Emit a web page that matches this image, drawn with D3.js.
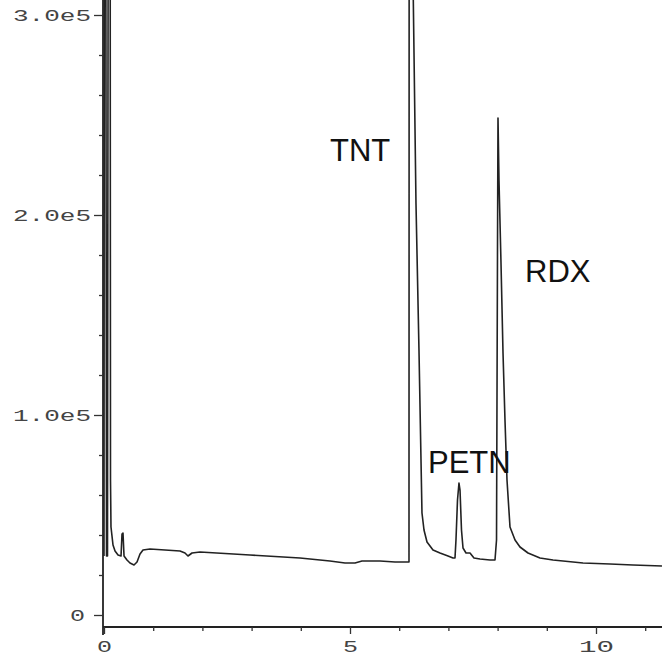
<!DOCTYPE html>
<html>
<head>
<meta charset="utf-8">
<script src="https://cdn.jsdelivr.net/npm/d3@7"></script>
<style>
  html, body { margin: 0; padding: 0; background: #fff; }
  svg { display: block; }
  .tick-label { font-family: "Liberation Mono", "DejaVu Sans Mono", monospace; font-size: 16px; fill: #444; }
  .peak-label { font-family: "Liberation Sans", Arial, sans-serif; font-size: 31px; fill: #111; }
</style>
</head>
<body>
<div id="chart"></div>
<script>
// Chromatogram trace: retention time (min) and detector response
const times = [
  0.000, 0.010, 0.030, 0.051, 0.071, 0.091, 0.122, 0.132, 0.142, 0.183,
  0.224, 0.285, 0.346, 0.366, 0.386, 0.407, 0.467, 0.528, 0.610, 0.671,
  0.732, 0.793, 0.935, 1.240, 1.545, 1.646, 1.707, 1.789, 1.951, 2.967,
  3.984, 4.593, 4.898, 5.102, 5.244, 5.610, 5.915, 6.179, 6.199, 6.205,
  6.270, 6.280, 6.341, 6.402, 6.463, 6.504, 6.565, 6.687, 6.829, 6.992,
  7.093, 7.134, 7.154, 7.185, 7.215, 7.236, 7.266, 7.297, 7.358, 7.439,
  7.520, 7.642, 7.846, 7.947, 7.978, 7.998, 8.008, 8.028, 8.069, 8.110,
  8.150, 8.191, 8.252, 8.354, 8.455, 8.618, 8.862, 9.126, 9.736, 10.285,
  10.752, 11.341
];
const intensities = [
  29500, 500000, 500000, 29500, 29500, 500000, 500000, 67500, 44000, 35000,
  32000, 30000, 29500, 40500, 41000, 29500, 27500, 26000, 25000, 26500,
  30500, 32500, 33000, 32500, 32000, 31000, 29500, 31000, 31500, 30000,
  28500, 27000, 26000, 26000, 27000, 27000, 26500, 26500, 26500, 600000,
  600000, 320000, 206000, 132500, 51000, 42500, 36500, 32500, 31000, 29500,
  28500, 28500, 37500, 57500, 66000, 62500, 42500, 33500, 31000, 31000,
  28500, 28000, 27500, 27500, 37500, 182500, 248500, 217500, 176000, 131000,
  97500, 67500, 44000, 37500, 34000, 31000, 28500, 27500, 26000, 25500,
  25000, 24500
];

// Axis ticks
const yMajorTicks = [0, 100000, 200000, 300000];
const yMinorTicks = d3.range(0, 300001, 20000).filter(v => v % 100000 !== 0);
const xMajorTicks = [0, 5, 10];
const xMinorTicks = d3.range(0, 12).filter(v => v % 5 !== 0);

// Peak annotations (anchor in data units: time, response)
const peakNames = ["TNT", "PETN", "RDX"];
const peakTimes = [4.593, 6.585, 8.557];
const peakResponses = [227000, 71000, 166500];

const W = 662, H = 661;

const svg = d3.select("#chart").append("svg")
  .attr("width", W)
  .attr("height", H);

const x = d3.scaleLinear().domain([0, 10]).range([104, 596]);
const y = d3.scaleLinear().domain([0, 300000]).range([615, 15]);

const axisX = x(0) - 1;   // vertical axis line position
const axisY = 627;        // horizontal axis line position

// ---- Axes lines ----
svg.append("line")
  .attr("x1", axisX).attr("x2", axisX)
  .attr("y1", 0).attr("y2", 635)
  .attr("stroke", "#222").attr("stroke-width", 1.8);

svg.append("line")
  .attr("x1", axisX).attr("x2", W)
  .attr("y1", axisY).attr("y2", axisY)
  .attr("stroke", "#222").attr("stroke-width", 1.8);

// ---- Y axis ticks ----
const yFmt = v => v === 0 ? "0" : (v / 100000).toFixed(1) + "e5";

const gyMinor = svg.append("g")
  .attr("transform", `translate(${axisX},0)`)
  .call(d3.axisLeft(y).tickValues(yMinorTicks).tickSize(4).tickFormat(""));
gyMinor.select(".domain").remove();

const gy = svg.append("g")
  .attr("transform", `translate(${axisX},0)`)
  .call(d3.axisLeft(y).tickValues(yMajorTicks).tickSize(9).tickPadding(3).tickFormat(yFmt));
gy.select(".domain").remove();
gy.selectAll("text")
  .attr("class", "tick-label")
  .attr("font-size", null).attr("font-family", null)
  .attr("fill", null)
  .attr("textLength", d => d === 0 ? 15 : 78)
  .attr("lengthAdjust", "spacingAndGlyphs")
  .attr("dx", d => d === 0 ? -6 : 0);

// ---- X axis ticks ----
const gxMinor = svg.append("g")
  .attr("transform", `translate(0,${axisY})`)
  .call(d3.axisBottom(x).tickValues(xMinorTicks).tickSize(4).tickFormat(""));
gxMinor.select(".domain").remove();

const gx = svg.append("g")
  .attr("transform", `translate(0,${axisY})`)
  .call(d3.axisBottom(x).tickValues(xMajorTicks).tickSize(7).tickPadding(7).tickFormat(d3.format("d")));
gx.select(".domain").remove();
gx.selectAll("text")
  .attr("class", "tick-label")
  .attr("font-size", null).attr("font-family", null)
  .attr("fill", null)
  .attr("textLength", d => d >= 10 ? 35 : 15)
  .attr("lengthAdjust", "spacingAndGlyphs");

svg.selectAll(".tick line").attr("stroke", "#333").attr("stroke-width", 1.3);

// ---- Trace ----
const pts = times.map((t, i) => [t, intensities[i]]);
const line = d3.line()
  .x(d => x(d[0]))
  .y(d => y(d[1]))
  .curve(d3.curveLinear);

svg.append("path")
  .datum(pts)
  .attr("d", line)
  .attr("fill", "none")
  .attr("stroke", "#222")
  .attr("stroke-width", 1.6)
  .attr("stroke-linejoin", "round");

// ---- Peak labels ----
svg.selectAll(".peak-label")
  .data(peakNames)
  .join("text")
  .attr("class", "peak-label")
  .attr("x", (d, i) => x(peakTimes[i]))
  .attr("y", (d, i) => y(peakResponses[i]))
  .text(d => d);
</script>
</body>
</html>
